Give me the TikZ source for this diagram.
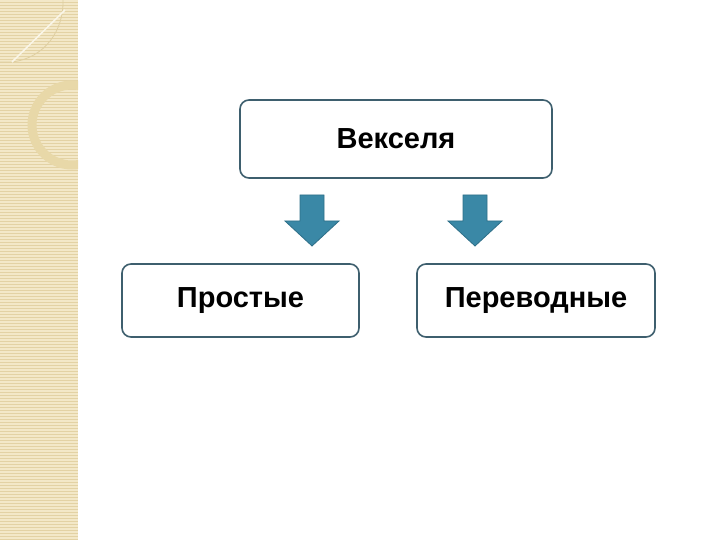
\documentclass[tikz,border=0pt]{standalone}
\usepackage{fontspec}
\setmainfont{Liberation Sans}
\begin{document}
\begin{tikzpicture}[x=1pt,y=-1pt,
  box/.style={draw=boxline,line width=1.6pt,rounded corners=9pt,fill=white,font=\fontsize{29}{33}\selectfont\bfseries},
  downarrow/.style={fill=arrowfill,draw=arrowline,line width=0.8pt}]
\definecolor{boxline}{HTML}{3E5F6E}
\definecolor{arrowfill}{HTML}{3A88A6}
\definecolor{arrowline}{HTML}{2E6F88}
\definecolor{strip}{HTML}{F3E8C8}
\definecolor{stripline}{HTML}{E3D2A4}
\definecolor{ring}{HTML}{E8D8A8}
\useasboundingbox (0,0) rectangle (720,540);
\fill[white] (0,0) rectangle (720,540);
% decorative strip
\fill[strip] (0,0) rectangle (78,540);
\begin{scope}
\clip (0,0) rectangle (78,540);
\foreach \y in {2,5,...,540} \draw[stripline,line width=0.6pt] (0,\y) -- (78,\y);
\draw[ring,line width=9pt] (72,125) circle (40);
\draw[ring!80!black!20!ring,line width=0.8pt] (0,62) -- (12,62) .. controls (45,58) and (64,30) .. (63,0);
\draw[white!60!strip,line width=1.5pt] (12,62) -- (65,10);
\end{scope}
% nodes
\node[box,minimum width=312pt,minimum height=78pt] (v) at (396,139) {Векселя};
\node[box,minimum width=237pt,minimum height=73pt] (p) at (240.5,300.5) {Простые};
\node[box,minimum width=238pt,minimum height=73pt] (t) at (536,300.5) {Переводные};
% arrows
\foreach \cx/\nm in {312/a1,475/a2}{
  \draw[downarrow] (\cx-12,195) -- (\cx+12,195) -- (\cx+12,221) -- (\cx+27,221) -- (\cx,246) -- (\cx-27,221) -- (\cx-12,221) -- cycle;
  \coordinate (\nm) at (\cx,246);
}
\end{tikzpicture}
\end{document}
